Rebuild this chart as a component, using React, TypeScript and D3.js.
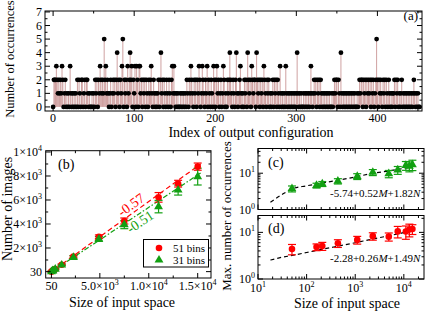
import React from "react";
import * as d3 from "d3";

const FONT = "'Liberation Serif', 'Times New Roman', Times, serif";

// ---------- panel (a) ----------
const occurrences: number[] = [
  0,2,2,2,3,2,1,2,1,2, 1,3,2,0,1,2,0,1,0,1, 0,3,1,0,1,0,1,0,1,0,
  2,0,2,1,0,2,2,0,1,2, 0,2,2,1,0,1,0,0,1,0, 1,0,2,1,2,0,2,1,3,2,
  1,2,1,5,2,3,1,2,1,0, 1,2,0,1,2,1,2,0,2,4, 1,2,0,2,1,3,5,0,2,1,
  2,0,3,1,2,4,2,3,0,2, 1,3,0,3,2,0,3,3,1,2, 0,2,1,2,0,2,1,0,2,1,
  2,3,1,0,2,1,0,1,0,1, 2,0,2,4,1,2,0,2,1,0, 2,1,0,2,1,0,2,3,1,3,
  1,0,1,0,1,0,0,1,0,1, 0,1,0,1,0,2,1,0,2,1, 3,2,1,0,2,1,2,0,2,1,
  3,2,0,1,3,2,1,0,2,1, 3,0,2,1,0,2,1,0,3,2, 0,2,3,1,2,0,1,2,0,1,
  3,2,0,1,0,2,1,2,4,2, 1,0,2,1,0,2,4,1,0,1, 2,3,1,0,1,0,2,1,2,0,
  4,2,1,2,0,3,2,1,2,2, 0,4,2,1,2,0,2,1,2,0, 3,2,1,0,2,1,2,0,1,0,
  1,2,0,2,1,2,0,2,1,0, 3,1,0,1,0,1,0,3,1,0, 1,0,1,0,1,0,1,0,1,0,
  1,4,1,0,1,0,1,0,0,1, 0,1,0,1,0,1,0,1,3,1, 0,1,2,1,2,0,2,1,2,0,
  2,1,0,1,0,1,0,1,0,1, 0,1,0,0,1,0,1,2,1,2, 2,0,2,1,0,4,1,0,1,0,
  1,0,1,0,1,0,1,0,1,0, 1,0,1,0,0,1,0,1,2,1, 2,2,0,2,1,2,0,2,1,2,
  1,2,0,2,1,2,0,1,2,5, 2,0,2,1,2,1,0,2,1,2, 0,2,1,0,2,1,0,1,0,1,
  1,2,0,2,1,2,0,1,0,1, 2,0,1,0,1,0,1,0,1,0, 1,0,1,0,1,2,1,0,1,0,
  1,0,0,
];
const aXMajor = [0, 100, 200, 300, 400];
const aXMinor = [50, 150, 250, 350, 450];
const aYMajor = [0, 1, 2, 3, 4, 5, 6, 7];
const aYMinor = [0.5, 1.5, 2.5, 3.5, 4.5, 5.5, 6.5];

// ---------- panels (b)-(d) ----------
const inputSize = [50, 160, 210, 440, 1100, 2300, 4900, 7500, 11000, 13000, 15000];
const images51 = [30, 90, 120, 250, 610, 1280, 2940, 4250, 6220, 7360, 8780];
const images51Err = [40, 40, 40, 50, 60, 90, 150, 250, 400, 280, 300];
const images31 = [30, 90, 115, 230, 580, 1220, 2750, 3950, 5450, 6830, 7950];
const images31Err = [40, 40, 40, 50, 60, 120, 200, 340, 520, 420, 700];
const bFitX = [-150, 15300];
const bFit51 = [-100, 9000];
const bFit31 = [-100, 8250];
const bXMajor = [50, 5000, 10000, 15000];
const bXLabels: [string, string][] = [["50", ""], ["5.0×10", "3"], ["1.0×10", "4"], ["1.5×10", "4"]];
const bXMinor = [2500, 7500, 12500];
const bYMajor = [30, 2000, 4000, 6000, 8000, 10000];
const bYLabels: [string, string][] = [["30", ""], ["2×10", "3"], ["4×10", "3"], ["6×10", "3"], ["8×10", "3"], ["1×10", "4"]];
const bYMinor = [1000, 3000, 5000, 7000, 9000];

const maxOcc31 = [3.75, 4.6, 5.1, 6.05, 8.2, 10.6, 9.7, 12.3, 16.5, 15.7, 17.3];
const maxOcc31Err = [0.7, 0.7, 0.8, 1.0, 1.5, 2.0, 2.2, 3.0, 4.5, 4.8, 5.5];
const maxOcc51 = [4.4, 4.85, 5.1, 5.85, 6.9, 8.3, 8.1, 10.5, 10.4, 11.5, 11.8];
const maxOcc51Err = [1.1, 0.8, 1.0, 1.1, 1.3, 1.5, 1.6, 2.9, 3.3, 3.5, 2.8];
const fitXs = [18, 30, 50, 100, 200, 500, 1000, 2000, 5000, 10000, 15000];
const fitC = [1.58, 2.5, 3.7, 4.5, 5.3, 6.6, 7.9, 9.6, 11.6, 13.6, 14.9];
const fitD = [2.55, 2.9, 3.2, 3.7, 4.3, 5.2, 6.0, 7.0, 8.5, 9.9, 11.1];
const logXMajor = [10, 100, 1000, 10000];
const logXLabels = ["1", "2", "3", "4"];

const RED = "#ff0000";
const GREEN = "#12a012";
const STEM = "#c99696";

function frameTicks(
  xs: any, ys: any,
  xMaj: number[], xMin: number[], yMaj: number[], yMin: number[],
  key: string
) {
  const [x0, x1] = xs.range();
  const [y0, y1] = ys.range();
  const out: React.ReactNode[] = [];
  const M = 5, m = 2.5;
  xMaj.forEach((v, i) => {
    const x = xs(v);
    out.push(<line key={key + "xM" + i} x1={x} x2={x} y1={y0} y2={y0 - M} />);
    out.push(<line key={key + "xMt" + i} x1={x} x2={x} y1={y1} y2={y1 + M} />);
  });
  xMin.forEach((v, i) => {
    const x = xs(v);
    out.push(<line key={key + "xm" + i} x1={x} x2={x} y1={y0} y2={y0 - m} />);
    out.push(<line key={key + "xmt" + i} x1={x} x2={x} y1={y1} y2={y1 + m} />);
  });
  yMaj.forEach((v, i) => {
    const y = ys(v);
    out.push(<line key={key + "yM" + i} x1={x0} x2={x0 + M} y1={y} y2={y} />);
    out.push(<line key={key + "yMr" + i} x1={x1} x2={x1 - M} y1={y} y2={y} />);
  });
  yMin.forEach((v, i) => {
    const y = ys(v);
    out.push(<line key={key + "ym" + i} x1={x0} x2={x0 + m} y1={y} y2={y} />);
    out.push(<line key={key + "ymr" + i} x1={x1} x2={x1 - m} y1={y} y2={y} />);
  });
  return (
    <g stroke="#000" strokeWidth={1}>
      <rect x={x0} y={y1} width={x1 - x0} height={y0 - y1} fill="none" />
      {out}
    </g>
  );
}

function logMinor(lo: number, hi: number) {
  const res: number[] = [];
  for (let d = Math.pow(10, Math.floor(Math.log10(lo))); d < hi; d *= 10) {
    for (let k = 2; k <= 9; k++) {
      const v = k * d;
      if (v > lo && v < hi) res.push(v);
    }
  }
  return res;
}

function SupText(props: { x: number; y: number; base: string; exp: string; anchor: string }) {
  const { x, y, base, exp, anchor } = props;
  return (
    <text x={x} y={y} textAnchor={anchor} fontSize={12}>
      {base}
      {exp ? <tspan dy={-5} fontSize={8}>{exp}</tspan> : null}
    </text>
  );
}

function ErrBar(props: { x: number; yLo: number; yHi: number; color: string }) {
  const { x, yLo, yHi, color } = props;
  return (
    <g stroke={color} strokeWidth={1.2}>
      <line x1={x} x2={x} y1={yLo} y2={yHi} />
      <line x1={x - 4} x2={x + 4} y1={yLo} y2={yLo} />
      <line x1={x - 4} x2={x + 4} y1={yHi} y2={yHi} />
    </g>
  );
}

const tri = d3.symbol(d3.symbolTriangle, 34)() as string;

export default function App() {
  // panel a
  const ax = d3.scaleLinear().domain([-10, 455]).range([45, 422]);
  const ay = d3.scaleLinear().domain([-0.3, 7.07]).range([111, 11]);

  // panel b
  const bx = d3.scaleLinear().domain([-535, 16360]).range([45.7, 211]);
  const by = d3.scaleLinear().domain([-500, 10108]).range([278, 150.7]);

  // panels c, d
  const cx = d3.scaleLog().domain([10, 26000]).range([258, 424]);
  const cy = d3.scaleLog().domain([1, 48]).range([209.5, 148.5]);
  const dy = d3.scaleLog().domain([1, 23]).range([279, 215.5]);

  const lineB = d3.line<number>().x((_, i) => bx(bFitX[i])).y((v) => by(v));
  const lineC = d3.line<number>().x((_, i) => cx(fitXs[i])).y((v) => cy(v)).curve(d3.curveMonotoneX);
  const lineD = d3.line<number>().x((_, i) => cx(fitXs[i])).y((v) => dy(v)).curve(d3.curveMonotoneX);

  const ang = (ys: number[]) =>
    (Math.atan2(by(ys[1]) - by(ys[0]), bx(bFitX[1]) - bx(bFitX[0])) * 180) / Math.PI;
  const ang51 = ang(bFit51);
  const ang31 = ang(bFit31);

  return (
    <svg
      width={430}
      height={311}
      style={{ position: "absolute", left: 0, top: 0, background: "#fff", fontFamily: FONT }}
    >
      <rect x={0} y={0} width={430} height={311} fill="#fff" />

      {/* ---------- panel (a) ---------- */}
      <g>
        {occurrences.map((v, i) =>
          v > 0 ? (
            <line key={"s" + i} x1={ax(i)} x2={ax(i)} y1={ay(0)} y2={ay(v)} stroke={STEM} strokeWidth={0.9} />
          ) : null
        )}
        {occurrences.map((v, i) => (
          <circle key={"p" + i} cx={ax(i)} cy={ay(v)} r={2.4} fill="#000" />
        ))}
        {frameTicks(ax, ay, aXMajor, aXMinor, aYMajor, aYMinor, "a")}
        {aXMajor.map((v) => (
          <text key={"axl" + v} x={ax(v)} y={122} textAnchor="middle" fontSize={12}>
            {v}
          </text>
        ))}
        {aYMajor.map((v) => (
          <text key={"ayl" + v} x={42} y={ay(v) + 4} textAnchor="end" fontSize={12}>
            {v}
          </text>
        ))}
        <text x={251} y={137} textAnchor="middle" fontSize={14}>
          Index of output configuration
        </text>
        <text transform="translate(14,59) rotate(-90)" textAnchor="middle" fontSize={12.5}>
          Number of occurrences
        </text>
        <text x={418} y={20} textAnchor="end" fontSize={13}>
          (a)
        </text>
      </g>

      {/* ---------- panel (b) ---------- */}
      <g>
        <path d={lineB(bFit51) || ""} fill="none" stroke={RED} strokeWidth={1.2} strokeDasharray="5,3" />
        <path d={lineB(bFit31) || ""} fill="none" stroke={GREEN} strokeWidth={1.2} strokeDasharray="5,2,1.5,2" />
        {inputSize.map((s, i) => (
          <ErrBar key={"br" + i} x={bx(s)} yLo={by(images51[i] - images51Err[i])} yHi={by(images51[i] + images51Err[i])} color={RED} />
        ))}
        {inputSize.map((s, i) => (
          <ErrBar key={"bg" + i} x={bx(s)} yLo={by(images31[i] - images31Err[i])} yHi={by(images31[i] + images31Err[i])} color={GREEN} />
        ))}
        {inputSize.map((s, i) => (
          <circle key={"bc" + i} cx={bx(s)} cy={by(images51[i])} r={3.3} fill={RED} />
        ))}
        {inputSize.map((s, i) => (
          <path key={"bt" + i} d={tri} transform={`translate(${bx(s)},${by(images31[i])})`} fill={GREEN} />
        ))}
        {frameTicks(bx, by, bXMajor, bXMinor, bYMajor, bYMinor, "b")}
        {bXMajor.map((v, i) => (
          <SupText key={"bxl" + i} x={bx(v)} y={290} base={bXLabels[i][0]} exp={bXLabels[i][1]} anchor="middle" />
        ))}
        {bYMajor.map((v, i) => (
          <SupText key={"byl" + i} x={42} y={by(v) + 4} base={bYLabels[i][0]} exp={bYLabels[i][1]} anchor="end" />
        ))}
        <text x={122} y={307} textAnchor="middle" fontSize={14}>
          Size of input space
        </text>
        <text transform="translate(12,209) rotate(-90)" textAnchor="middle" fontSize={14}>
          Number of images
        </text>
        <text x={58} y={169} fontSize={14}>
          (b)
        </text>
        <text transform={`translate(132,206) rotate(${ang51})`} textAnchor="middle" dominantBaseline="middle" fontSize={14} fill={RED}>
          -0.57
        </text>
        <text transform={`translate(141,223) rotate(${ang31})`} textAnchor="middle" dominantBaseline="middle" fontSize={14} fill={GREEN}>
          -0.51
        </text>
        {/* legend */}
        <rect x={143.5} y={239.5} width={65} height={27.5} fill="#fff" stroke="#000" strokeWidth={1} />
        <circle cx={159} cy={248} r={3.3} fill={RED} />
        <path d={tri} transform="translate(159,260)" fill={GREEN} />
        <text x={173} y={251.5} fontSize={11}>
          51 bins
        </text>
        <text x={173} y={263.5} fontSize={11}>
          31 bins
        </text>
      </g>

      {/* ---------- panel (c) ---------- */}
      <g>
        <path d={lineC(fitC) || ""} fill="none" stroke="#000" strokeWidth={1.2} strokeDasharray="4,3" />
        {inputSize.map((s, i) => (
          <ErrBar key={"cg" + i} x={cx(s)} yLo={cy(maxOcc31[i] - maxOcc31Err[i])} yHi={cy(maxOcc31[i] + maxOcc31Err[i])} color={GREEN} />
        ))}
        {inputSize.map((s, i) => (
          <path key={"ct" + i} d={tri} transform={`translate(${cx(s)},${cy(maxOcc31[i])})`} fill={GREEN} />
        ))}
        {frameTicks(cx, cy, logXMajor, logMinor(10, 26000), [1, 10], logMinor(1, 48), "c")}
        <SupText x={255} y={cy(10) + 4} base="10" exp="1" anchor="end" />
        <SupText x={255} y={cy(1) + 4} base="10" exp="0" anchor="end" />
        <text x={268} y={167} fontSize={14}>
          (c)
        </text>
        <text x={330} y={197} fontSize={11}>
          -5.74+0.52<tspan fontStyle="italic">M</tspan>+1.82<tspan fontStyle="italic">N</tspan>
        </text>
      </g>

      {/* ---------- panel (d) ---------- */}
      <g>
        <path d={lineD(fitD) || ""} fill="none" stroke="#000" strokeWidth={1.2} strokeDasharray="4,3" />
        {inputSize.map((s, i) => (
          <ErrBar key={"dr" + i} x={cx(s)} yLo={dy(maxOcc51[i] - maxOcc51Err[i])} yHi={dy(maxOcc51[i] + maxOcc51Err[i])} color={RED} />
        ))}
        {inputSize.map((s, i) => (
          <circle key={"dc" + i} cx={cx(s)} cy={dy(maxOcc51[i])} r={3.3} fill={RED} />
        ))}
        {frameTicks(cx, dy, logXMajor, logMinor(10, 26000), [1, 10], logMinor(1, 23), "d")}
        <SupText x={255} y={dy(10) + 4} base="10" exp="1" anchor="end" />
        <SupText x={255} y={dy(1) + 4} base="10" exp="0" anchor="end" />
        {logXMajor.map((v, i) => (
          <SupText key={"dxl" + i} x={cx(v)} y={292} base="10" exp={logXLabels[i]} anchor="middle" />
        ))}
        <text x={268} y={233} fontSize={14}>
          (d)
        </text>
        <text x={330} y={262} fontSize={11}>
          -2.28+0.26<tspan fontStyle="italic">M</tspan>+1.49<tspan fontStyle="italic">N</tspan>
        </text>
        <text x={347} y={308} textAnchor="middle" fontSize={14}>
          Size of input space
        </text>
        <text transform="translate(231,216) rotate(-90)" textAnchor="middle" fontSize={13}>
          Max. number of occurrences
        </text>
      </g>
    </svg>
  );
}
